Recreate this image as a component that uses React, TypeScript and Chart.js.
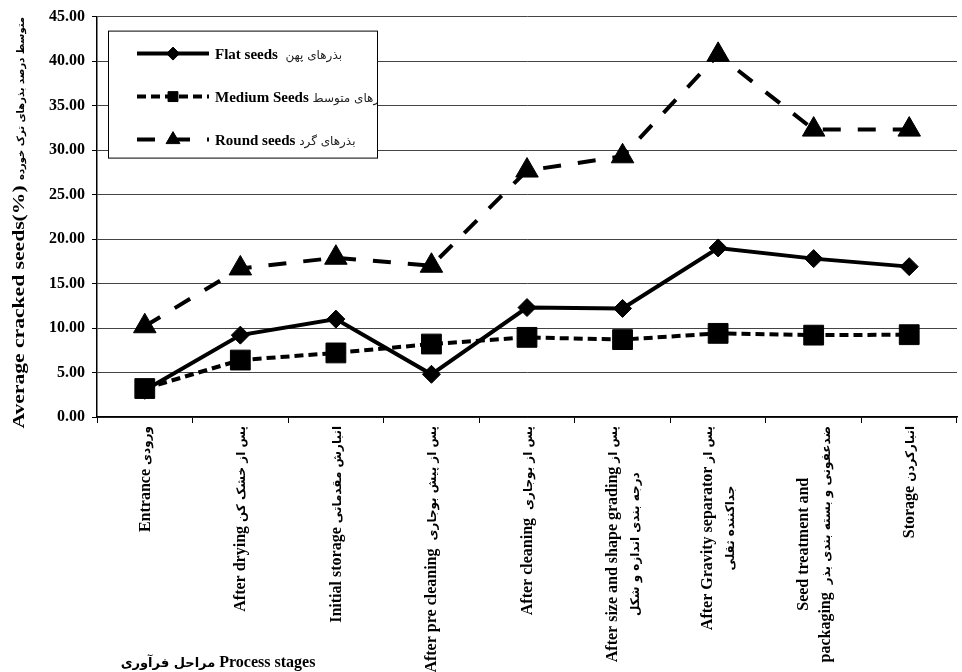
import React, { useEffect, useRef } from 'react';
import { Chart, registerables } from 'chart.js';
import { drawPoint } from 'chart.js/helpers';

Chart.register(...registerables);

// ---------- data ----------
const categories = [
  'Entrance',
  'After drying',
  'Initial storage',
  'After pre cleaning',
  'After cleaning',
  'After size and shape grading',
  'After Gravity separator',
  'Seed treatment and packaging',
  'Storage',
];

const xLabelLines: string[][] = [
  ['Entrance ورودی'],
  ['After drying پس از خشک کن'],
  ['Initial storage انبارش مقدماتی'],
  ['After pre cleaning  پس از پیش بوجاری'],
  ['After cleaning  پس از بوجاری'],
  ['After size and shape grading پس از', 'درجه بندی اندازه و شکل'],
  ['After Gravity separator پس از', 'جداکننده ثقلی'],
  ['Seed treatment and', 'packaging  ضدعفونی و بسته بندی بذر'],
  ['Storage انبارکردن'],
];

const flatSeeds = [3.0, 9.2, 11.0, 4.8, 12.3, 12.2, 19.0, 17.8, 16.9];
const mediumSeeds = [3.2, 6.4, 7.2, 8.2, 8.95, 8.7, 9.4, 9.2, 9.25];
const roundSeeds = [10.2, 16.7, 17.9, 17.0, 27.7, 29.3, 40.7, 32.3, 32.3];

const seriesNames = [
  'Flat seeds  بذرهای پهن',
  'Medium Seeds بذرهای متوسط',
  'Round seeds بذرهای گرد',
];

const yMin = 0;
const yMax = 45;
const yStep = 5;

const yTitle = 'Average cracked seeds(%) متوسط درصد بذرهای ترک خورده';
const xTitle = 'مراحل فرآوری Process stages';

// ---------- styles ----------
const LATIN = '"Liberation Serif", "Times New Roman", serif';
const ARABIC = '"DejaVu Sans", sans-serif';

const seriesStyles = [
  { dash: [] as number[], pointStyle: 'rectRot', radius: 9, legendRadius: 6.5, order: 1 },
  { dash: [9, 5], pointStyle: 'rect', radius: 14, legendRadius: 7, order: 0 },
  { dash: [18, 17], pointStyle: 'triangle', radius: 13, legendRadius: 8, order: 2 },
];

type Seg = { text: string; arabic: boolean };
const ARABIC_RUN = /[\u0600-\u06FF\u200C]+(?:\s+[\u0600-\u06FF\u200C]+)*/g;

function splitRuns(text: string): Seg[] {
  const out: Seg[] = [];
  let last = 0;
  let m: RegExpExecArray | null;
  ARABIC_RUN.lastIndex = 0;
  while ((m = ARABIC_RUN.exec(text))) {
    if (m.index > last) out.push({ text: text.slice(last, m.index), arabic: false });
    out.push({ text: m[0], arabic: true });
    last = m.index + m[0].length;
  }
  if (last < text.length) out.push({ text: text.slice(last), arabic: false });
  return out;
}

type FontSpec = { latin: string; arabic: string; arabicColor?: string; latinStretch?: number };

function measureMixed(ctx: CanvasRenderingContext2D, text: string, f: FontSpec) {
  let w = 0;
  for (const s of splitRuns(text)) {
    ctx.font = s.arabic ? f.arabic : f.latin;
    const k = !s.arabic && f.latinStretch ? f.latinStretch : 1;
    w += ctx.measureText(s.text).width * k;
  }
  return w;
}

// draws text starting at x (left), alphabetic baseline at y
function drawMixed(ctx: CanvasRenderingContext2D, text: string, x: number, y: number, f: FontSpec) {
  ctx.textAlign = 'left';
  ctx.textBaseline = 'alphabetic';
  let cx = x;
  for (const s of splitRuns(text)) {
    ctx.font = s.arabic ? f.arabic : f.latin;
    ctx.fillStyle = s.arabic && f.arabicColor ? f.arabicColor : '#000';
    const k = !s.arabic && f.latinStretch ? f.latinStretch : 1;
    const w = ctx.measureText(s.text).width;
    if (k !== 1) {
      ctx.save();
      ctx.translate(cx, y);
      ctx.scale(k, 1);
      ctx.fillText(s.text, 0, 0);
      ctx.restore();
    } else {
      ctx.fillText(s.text, cx, y);
    }
    cx += w * k;
  }
}

const xLabelFont: FontSpec = { latin: `bold 16px ${LATIN}`, arabic: `bold 12px ${ARABIC}` };
const yTitleFont: FontSpec = { latin: `bold 16px ${LATIN}`, arabic: `bold 10px ${ARABIC}`, latinStretch: 1.35 };
const xTitleFont: FontSpec = { latin: `bold 16px ${LATIN}`, arabic: `bold 13px ${ARABIC}` };
const legendFont: FontSpec = { latin: `bold 15px ${LATIN}`, arabic: `12px ${ARABIC}`, arabicColor: '#222' };
const LINE_H = 22;

const overlayPlugin = {
  id: 'overlay',
  afterDraw(chart: any) {
    const { ctx, chartArea } = chart;
    const xs = chart.scales.x;
    ctx.save();

    // x tick labels (rotated, centred multi-line)
    xLabelLines.forEach((lines, i) => {
      const x = xs.getPixelForValue(i);
      const top = chartArea.bottom + 9;
      const widths = lines.map((l) => measureMixed(ctx, l, xLabelFont));
      const maxW = Math.max(...widths);
      ctx.save();
      ctx.translate(x, top);
      ctx.rotate(-Math.PI / 2);
      lines.forEach((l, k) => {
        const off = (k - (lines.length - 1) / 2) * LINE_H;
        drawMixed(ctx, l, -maxW / 2 - widths[k] / 2, off + 5, xLabelFont);
      });
      ctx.restore();
    });

    // y title
    ctx.save();
    const yw = measureMixed(ctx, yTitle, yTitleFont);
    ctx.translate(18, (chartArea.top + chartArea.bottom) / 2 + 6);
    ctx.rotate(-Math.PI / 2);
    drawMixed(ctx, yTitle, -yw / 2, 6, yTitleFont);
    ctx.restore();

    // x title
    const xw = measureMixed(ctx, xTitle, xTitleFont);
    drawMixed(ctx, xTitle, chartArea.left + 121 - xw / 2, chart.height - 5, xTitleFont);

    // legend
    const lx = chartArea.left + 11;
    const ly = chartArea.top + 14;
    const lw = 269;
    const lh = 127;
    ctx.fillStyle = '#fff';
    ctx.fillRect(lx, ly, lw, lh);
    ctx.strokeStyle = '#000';
    ctx.lineWidth = 1;
    ctx.strokeRect(lx + 0.5, ly + 0.5, lw, lh);

    seriesNames.forEach((name, k) => {
      const st = seriesStyles[k];
      const y = ly + 23 + k * 43;
      ctx.save();
      ctx.strokeStyle = '#000';
      ctx.lineWidth = 4;
      ctx.setLineDash(st.dash);
      ctx.beginPath();
      ctx.moveTo(lx + 29, y);
      ctx.lineTo(lx + 101, y);
      ctx.stroke();
      ctx.setLineDash([]);
      ctx.fillStyle = '#000';
      ctx.lineWidth = 1;
      drawPoint(ctx, { pointStyle: st.pointStyle, radius: st.legendRadius, borderWidth: 1, rotation: 0 } as any, lx + 65, y);
      ctx.restore();

      ctx.save();
      ctx.beginPath();
      ctx.rect(lx, ly, lw, lh);
      ctx.clip();
      drawMixed(ctx, name, lx + 107, y + 5, legendFont);
      ctx.restore();
    });

    ctx.restore();
  },
};

export default function App() {
  const ref = useRef<HTMLCanvasElement>(null);

  useEffect(() => {
    if (!ref.current) return;
    const data = [flatSeeds, mediumSeeds, roundSeeds];
    const chart = new Chart(ref.current, {
      type: 'line',
      data: {
        labels: categories,
        datasets: data.map((values, k) => ({
          label: seriesNames[k],
          data: values,
          borderColor: '#000',
          backgroundColor: '#000',
          borderWidth: 4,
          borderDash: seriesStyles[k].dash,
          pointStyle: seriesStyles[k].pointStyle as any,
          pointRadius: seriesStyles[k].radius,
          pointBackgroundColor: '#000',
          pointBorderColor: '#000',
          pointBorderWidth: 1,
          tension: 0,
          fill: false,
          order: seriesStyles[k].order,
        })),
      },
      options: {
        animation: false,
        responsive: false,
        maintainAspectRatio: false,
        layout: { padding: { top: 16, right: 2, left: 0, bottom: 0 } },
        plugins: {
          legend: { display: false },
          tooltip: { enabled: false },
          title: { display: false },
        },
        scales: {
          x: {
            type: 'category',
            offset: true,
            grid: {
              display: true,
              drawOnChartArea: false,
              drawTicks: true,
              tickLength: 6,
              color: '#000',
              tickColor: '#000',
              offset: true,
            },
            border: { display: true, color: '#000', width: 1.5 },
            ticks: { display: false },
            afterFit: (scale: any) => {
              scale.height = 255;
            },
          },
          y: {
            min: yMin,
            max: yMax,
            ticks: {
              stepSize: yStep,
              color: '#000',
              padding: 7,
              font: { family: LATIN, size: 16, weight: 'bold' },
              callback: (v: any) => Number(v).toFixed(2),
            },
            grid: {
              color: '#444',
              lineWidth: 1,
              tickLength: 5,
              tickColor: '#000',
              drawTicks: true,
            },
            border: { display: true, color: '#000', width: 1.5 },
            afterFit: (scale: any) => {
              scale.width = 97;
            },
          },
        },
      },
      plugins: [overlayPlugin],
    });
    return () => chart.destroy();
  }, []);

  return (
    <div
      style={{
        position: 'fixed',
        left: 0,
        top: 0,
        width: 962,
        height: 672,
        overflow: 'hidden',
        background: '#fff',
      }}
    >
      <canvas ref={ref} width={972} height={672} style={{ display: 'block', width: 972, height: 672 }} />
    </div>
  );
}
